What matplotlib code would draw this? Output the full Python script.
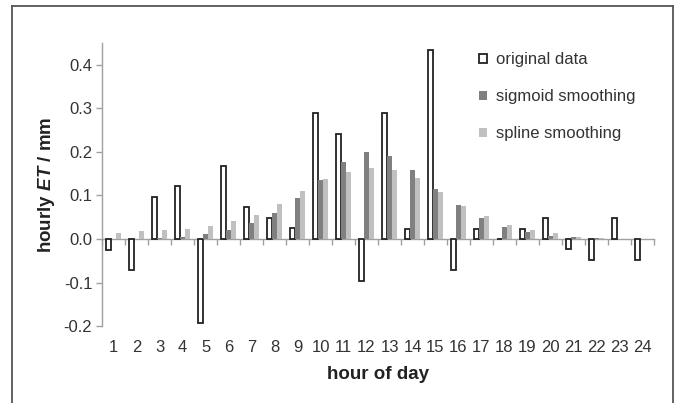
import numpy as np
import matplotlib
matplotlib.use("Agg")
import matplotlib.pyplot as plt
from matplotlib.lines import Line2D

plt.rcParams['font.family'] = ['Liberation Sans', 'DejaVu Sans']
plt.rcParams['mathtext.fontset'] = 'custom'
plt.rcParams['mathtext.it'] = 'Liberation Sans:italic:bold'
plt.rcParams['mathtext.rm'] = 'Liberation Sans:bold'

hours = list(range(1, 25))
original = [-0.025, -0.072, 0.097, 0.121, -0.194, 0.168, 0.073, 0.049, 0.025, 0.290,
            0.241, -0.096, 0.290, 0.024, 0.434, -0.072, 0.024, 0.0, 0.024, 0.048,
            -0.024, -0.048, 0.048, -0.048]
sigmoid = [0.0, 0.001, 0.002, 0.005, 0.011, 0.020, 0.036, 0.060, 0.094, 0.136,
           0.176, 0.199, 0.191, 0.158, 0.115, 0.077, 0.048, 0.028, 0.017, 0.007,
           0.004, 0.002, 0.0, 0.0]
spline = [0.013, 0.019, 0.021, 0.024, 0.029, 0.042, 0.056, 0.081, 0.110, 0.137,
          0.155, 0.162, 0.159, 0.140, 0.109, 0.076, 0.053, 0.031, 0.021, 0.013,
          0.005, 0.002, 0.0, 0.0]

fig = plt.figure(figsize=(6.77, 4.03), dpi=100, facecolor='w')
ax = fig.add_axes([0.1507, 0.191, 0.8153, 0.702])

x = np.array(hours)
w = 0.23
ax.bar(x - w, original, w, facecolor='white', edgecolor='#222222', linewidth=1.3,
       label='original data', zorder=3)
ax.bar(x, sigmoid, w, color='#808080', label='sigmoid smoothing', zorder=3)
ax.bar(x + w, spline, w, color='#c0c0c0', label='spline smoothing', zorder=3)

ax.set_xlim(0.5, 24.5)
ax.set_ylim(-0.2, 0.45)
ax.set_yticks(np.arange(-0.2, 0.41, 0.1))
ax.set_yticklabels(['%.1f' % v for v in np.arange(-0.2, 0.41, 0.1)])
ax.set_xticks(x)
ax.set_xticklabels([str(h) for h in hours])

axis_col = '#a0a0a0'
for s in ['top', 'right', 'bottom']:
    ax.spines[s].set_visible(False)
ax.spines['left'].set_color(axis_col)
ax.spines['left'].set_linewidth(1.0)
ax.tick_params(axis='y', direction='out', length=4, width=1.0, color=axis_col,
               labelsize=12, labelcolor='#333333', pad=3)
ax.tick_params(axis='x', length=0, labelsize=12, labelcolor='#333333', pad=10)

# category axis drawn at y = 0 with ticks between categories
sec = ax.secondary_xaxis(0, transform=ax.transData)
sec.spines['bottom'].set_color(axis_col)
sec.spines['bottom'].set_linewidth(1.0)
sec.set_xticks(np.arange(0.5, 25, 1))
sec.tick_params(axis='x', direction='out', length=4, width=1.0, color=axis_col,
                labelbottom=False)

ax.set_xlabel('hour of day', fontsize=13.5, fontweight='bold', color='#222222', labelpad=8)
ax.set_ylabel('hourly $ET$ / mm', fontsize=13.5, fontweight='bold', color='#222222', labelpad=5)

leg = ax.legend(loc='upper left', bbox_to_anchor=(0.685, 0.907), bbox_transform=fig.transFigure,
                frameon=False, fontsize=12, handlelength=0.52, handleheight=0.52,
                handletextpad=0.5, labelspacing=1.32)
for t in leg.get_texts():
    t.set_color('#333333')

# outer frame
fc = '#555555'
fig.add_artist(Line2D([12 / 677, 12 / 677], [0, 1 - 6 / 403], color=fc, lw=1.3, transform=fig.transFigure))
fig.add_artist(Line2D([12 / 677, 673 / 677], [1 - 6 / 403, 1 - 6 / 403], color=fc, lw=1.3, transform=fig.transFigure))
fig.add_artist(Line2D([673 / 677, 673 / 677], [0, 1 - 6 / 403], color=fc, lw=1.3, transform=fig.transFigure))

fig.savefig('out.png', dpi=100)
